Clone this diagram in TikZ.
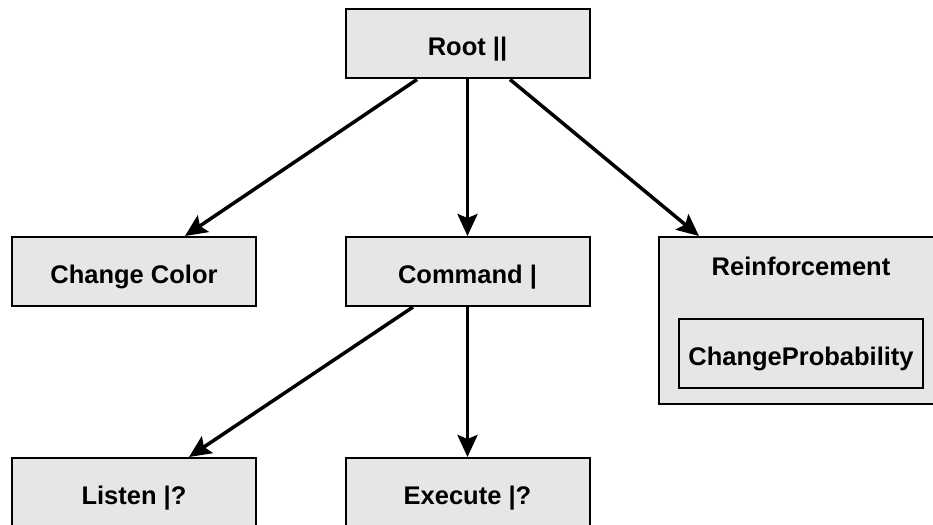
\documentclass[tikz,border=0pt]{standalone}
\usepackage{fontspec}
\setmainfont{Liberation Sans}
\usetikzlibrary{arrows.meta}
\definecolor{boxgray}{HTML}{E6E6E6}
\begin{document}
\begin{tikzpicture}[x=1pt,y=-1pt,
  box/.style={draw, line width=2pt, fill=boxgray, minimum width=244pt, minimum height=69pt, inner sep=0pt,
    text height=24pt, text depth=0pt,
    font=\bfseries\fontsize{25.5}{30}\selectfont},
  outerbox/.style={draw, line width=2pt, fill=boxgray, minimum width=284pt, minimum height=167pt, inner sep=0pt},
  lbl/.style={inner sep=0pt, text height=24pt, text depth=0pt, font=\bfseries\fontsize{25.5}{30}\selectfont},
  arr/.style={line width=3.5pt, -{Stealth[length=22pt,width=20pt,inset=4pt]}}]
\useasboundingbox (0,0) rectangle (933,524);
\clip (0,0) rectangle (933,524);
\node[box] (root) at (467.5,44) {Root ||};
\node[box] (chg) at (134,271.5) {Change Color};
\node[box] (cmd) at (467.5,271.5) {Command |};
\node[outerbox] (reinf) at (801,320.5) {};
\node[lbl] (reinflbl) at (801,263) {Reinforcement};
\node[box] (cp) at (801,353) {ChangeProbability};
\node[box] (lis) at (134,492.5) {Listen |?};
\node[box] (exe) at (467.5,492.5) {Execute |?};
\draw[arr] ([xshift=-50.5pt]root.south) -- ([xshift=51pt]chg.north);
\draw[arr] (root.south) -- (cmd.north);
\draw[arr] ([xshift=42.5pt]root.south) -- ([xshift=-102pt]reinf.north);
\draw[arr] ([xshift=-54.5pt]cmd.south) -- ([xshift=55pt]lis.north);
\draw[arr] (cmd.south) -- (exe.north);
\end{tikzpicture}
\end{document}
